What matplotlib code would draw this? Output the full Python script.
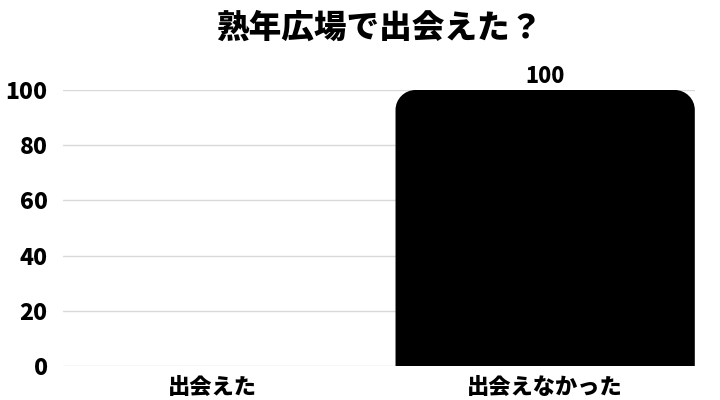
import matplotlib
matplotlib.use("Agg")
import matplotlib.pyplot as plt
from matplotlib.path import Path
from matplotlib.patches import PathPatch

categories = ["出会えた", "出会えなかった"]
values = [0, 100]
yticks = [0, 20, 40, 60, 80, 100]
title = "熟年広場で出会えた？"

plt.rcParams["font.family"] = ["Noto Sans CJK JP", "DejaVu Sans"]
WEIGHT = "heavy"

W, H = 7.2, 4.0
fig = plt.figure(figsize=(W, H), dpi=100)
ax = fig.add_axes([0.0875, 0.085, 0.8775, 0.69])

bars = ax.bar(categories, values, width=0.9, color="black", zorder=3)
ax.set_xlim(-0.45, 1.45)
ax.set_ylim(0, 100)
ax.set_yticks(yticks)

# grid / spines
ax.yaxis.grid(True, color="#d9d9d9", lw=1.0, zorder=0)
ax.set_axisbelow(True)
for s in ax.spines.values():
    s.set_visible(False)
ax.tick_params(length=0)
ax.tick_params(axis="y", pad=11, labelsize=16.5)
ax.tick_params(axis="x", pad=7, labelsize=16)
for lbl in ax.get_xticklabels() + ax.get_yticklabels():
    lbl.set_fontweight(WEIGHT)

# round the top corners of each bar (radius ~20 px)
ax_w_px = 0.8775 * W * 100
ax_h_px = 0.69 * H * 100
px_x = ax_w_px / (1.45 + 0.45)
px_y = ax_h_px / 100.0
R = 20
k = 0.5523
for rect, v in zip(bars.patches, values):
    if v <= 0:
        rect.set_visible(False)
        continue
    x0, y0 = rect.get_x(), rect.get_y()
    x1, y1 = x0 + rect.get_width(), y0 + rect.get_height()
    rx, ry = R / px_x, R / px_y
    verts = [
        (x0, y0), (x0, y1 - ry),
        (x0, y1 - ry + k * ry), (x0 + rx - k * rx, y1), (x0 + rx, y1),
        (x1 - rx, y1),
        (x1 - rx + k * rx, y1), (x1, y1 - ry + k * ry), (x1, y1 - ry),
        (x1, y0), (x0, y0),
    ]
    codes = [Path.MOVETO, Path.LINETO,
             Path.CURVE4, Path.CURVE4, Path.CURVE4,
             Path.LINETO,
             Path.CURVE4, Path.CURVE4, Path.CURVE4,
             Path.LINETO, Path.CLOSEPOLY]
    rect.set_visible(False)
    ax.add_patch(PathPatch(Path(verts, codes), facecolor="black",
                           edgecolor="none", zorder=3))
    ax.text(x0 + rect.get_width() / 2, v + 5, f"{v}", ha="center", va="center",
            fontsize=15.5, fontweight=WEIGHT, clip_on=False)

fig.text(0.526, 1 - 28 / 400, title, ha="center", va="center",
         fontsize=23.5, fontweight=WEIGHT)

fig.savefig("out.png", dpi=100, facecolor="white")
